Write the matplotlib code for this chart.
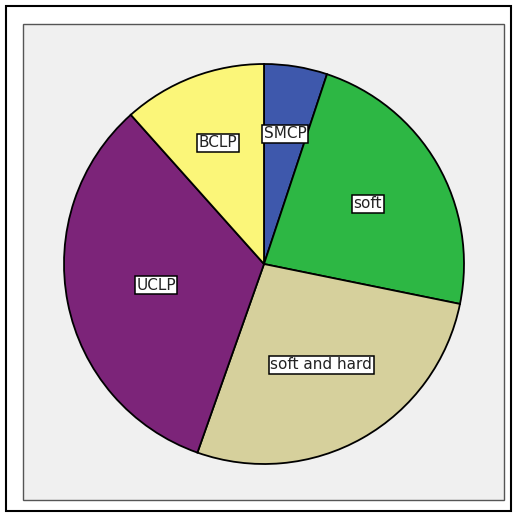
import numpy as np
import matplotlib.pyplot as plt
from matplotlib.patches import Rectangle

# Dane (udział procentowy)
labels = ['SMCP', 'soft', 'soft and hard', 'UCLP', 'BCLP']
values = [5.1, 23.1, 27.2, 33.0, 11.6]
colors = ['#3e58ac', '#2db744', '#d6d09c', '#7c2479', '#fbf679']
label_r = [0.66, 0.60, 0.58, 0.55, 0.65]  # odległość etykiet od środka

W = 517
fig = plt.figure(figsize=(W / 100, W / 100), dpi=100)

# Zewnętrzna ramka i szare tło panelu (pod wykresem)
fig.patches.append(Rectangle((6 / W, 6 / W), 505 / W, 505 / W, transform=fig.transFigure,
                             fill=False, edgecolor='black', linewidth=1.5, zorder=-5))
fig.patches.append(Rectangle((23 / W, 17 / W), 481 / W, 476 / W, transform=fig.transFigure,
                             facecolor='#f0f0f0', edgecolor='#555555', linewidth=1.0, zorder=-5))

ax = fig.add_axes([64 / W, 53 / W, 400 / W, 400 / W])
ax.patch.set_visible(False)
wedges, _ = ax.pie(values, colors=colors, startangle=90, counterclock=False,
                   wedgeprops=dict(edgecolor='black', linewidth=1.3))
ax.set_xlim(-1, 1)
ax.set_ylim(-1, 1)
ax.set_aspect('equal')
ax.axis('off')

# Etykiety w ramkach
for w, lab, r in zip(wedges, labels, label_r):
    ang = np.deg2rad((w.theta1 + w.theta2) / 2)
    ax.text(r * np.cos(ang), r * np.sin(ang), lab, ha='center', va='center',
            fontsize=11, family='DejaVu Sans', color='#222222',
            bbox=dict(boxstyle='square,pad=0.1', facecolor='white', edgecolor='black', linewidth=1.1))

fig.savefig('out.png', dpi=100)
